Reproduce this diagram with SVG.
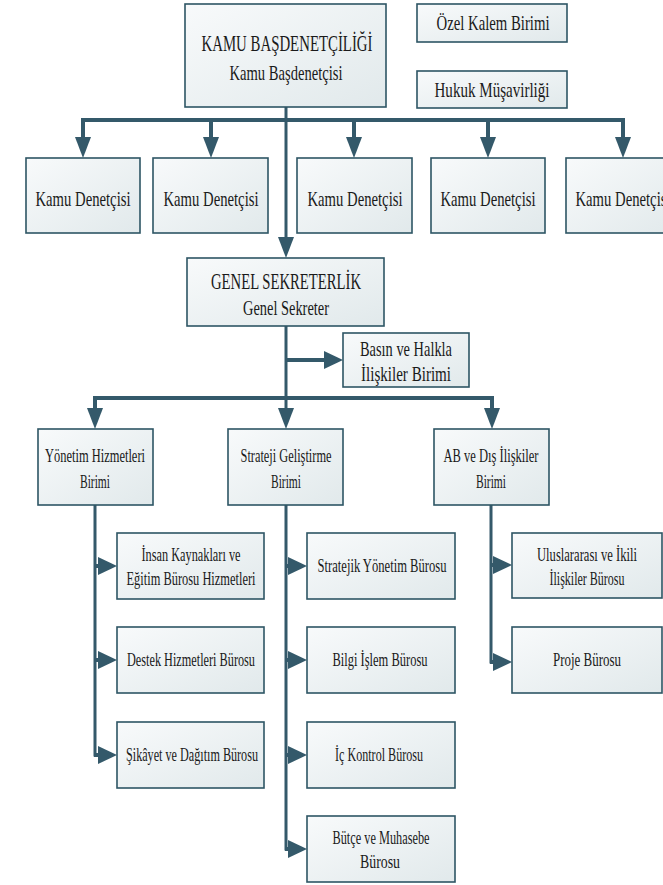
<svg xmlns="http://www.w3.org/2000/svg" width="663" height="885" viewBox="0 0 663 885" font-family="Liberation Serif, serif">
<defs>
<linearGradient id="g" x1="0" y1="0" x2="1" y2="1">
<stop offset="0" stop-color="#f8fafb"/>
<stop offset="1" stop-color="#e1e9eb"/>
</linearGradient>
<path id="hd" d="M-8,-21 L8,-21 L0,0 z" fill="#34596a"/>
<path id="hr" d="M-19,-9 L-19,9 L0,0 z" fill="#34596a"/>
<style>
.box{fill:url(#g);stroke:#2d5564;stroke-width:1.6}
.t{font-family:"Liberation Serif",serif;fill:#1a1a1a;text-anchor:middle}
.l{font-size:23px}
.m{font-size:21px}
.s{font-size:18.5px}
.c{fill:none;stroke:#34596a;stroke-linejoin:miter}
.b{stroke-width:4}
.v{stroke-width:3}
.a{stroke-width:4}
</style>
</defs>
<rect width="663" height="885" fill="#ffffff"/>
<g id="connectors">
<path class="c v" d="M286,107 V240"/>
<path class="c b" d="M83,122 V120 H623 V122"/>
<path class="c a" d="M83,120 V140 M211,120 V140 M354,120 V140 M488,120 V140 M623,120 V140"/>
<path class="c v" d="M286,326 V412"/>
<path class="c a" d="M286,360 H326"/>
<path class="c b" d="M95,400 V398 H492 V400"/>
<path class="c a" d="M95,398 V412 M492,398 V412"/>
<path class="c v" d="M95,505 V755 H100"/>
<path class="c a" d="M95,566 H100 M95,660 H100 M94,755 H100"/>
<path class="c v" d="M286,505 V849 H290"/>
<path class="c a" d="M286,566 H290 M286,660 H290 M286,755 H290 M285,849 H290"/>
<path class="c v" d="M491,505 V662 H496"/>
<path class="c a" d="M491,565 H495 M490,662 H495"/>
<use href="#hd" x="286" y="258"/>
<use href="#hd" x="83" y="158"/>
<use href="#hd" x="211" y="158"/>
<use href="#hd" x="354" y="158"/>
<use href="#hd" x="488" y="158"/>
<use href="#hd" x="623" y="158"/>
<use href="#hr" x="343" y="360"/>
<use href="#hd" x="95" y="429"/>
<use href="#hd" x="286" y="429"/>
<use href="#hd" x="492" y="429"/>
<use href="#hr" x="117" y="566"/>
<use href="#hr" x="117" y="660"/>
<use href="#hr" x="117" y="755"/>
<use href="#hr" x="307" y="566"/>
<use href="#hr" x="307" y="660"/>
<use href="#hr" x="307" y="755"/>
<use href="#hr" x="307" y="849"/>
<use href="#hr" x="512" y="565"/>
<use href="#hr" x="512" y="662"/>
</g>
<g id="kamu-basdenetcilik">
<rect class="box" x="185" y="4" width="201" height="103"/>
<text class="t l" x="287" y="51" textLength="171" lengthAdjust="spacingAndGlyphs">KAMU BAŞDENETÇİLİĞİ</text>
<text class="t m" x="286" y="80" textLength="113" lengthAdjust="spacingAndGlyphs">Kamu Başdenetçisi</text>
</g>
<g id="ozel-kalem">
<rect class="box" x="417" y="4" width="150" height="38"/>
<text class="t m" x="493" y="30" textLength="113" lengthAdjust="spacingAndGlyphs">Özel Kalem Birimi</text>
</g>
<g id="hukuk">
<rect class="box" x="417" y="71" width="150" height="37"/>
<text class="t m" x="492" y="97" textLength="115" lengthAdjust="spacingAndGlyphs">Hukuk Müşavirliği</text>
</g>
<g id="kamu-denetcisi-1">
<rect class="box" x="26" y="158" width="114" height="75"/>
<text class="t m" x="83" y="206" textLength="95" lengthAdjust="spacingAndGlyphs">Kamu Denetçisi</text>
</g>
<g id="kamu-denetcisi-2">
<rect class="box" x="153" y="158" width="115" height="75"/>
<text class="t m" x="211" y="206" textLength="95" lengthAdjust="spacingAndGlyphs">Kamu Denetçisi</text>
</g>
<g id="kamu-denetcisi-3">
<rect class="box" x="297" y="158" width="115" height="75"/>
<text class="t m" x="355" y="206" textLength="95" lengthAdjust="spacingAndGlyphs">Kamu Denetçisi</text>
</g>
<g id="kamu-denetcisi-4">
<rect class="box" x="431" y="158" width="114" height="75"/>
<text class="t m" x="488" y="206" textLength="95" lengthAdjust="spacingAndGlyphs">Kamu Denetçisi</text>
</g>
<g id="kamu-denetcisi-5">
<rect class="box" x="566" y="158" width="115" height="75"/>
<text class="t m" x="623" y="206" textLength="95" lengthAdjust="spacingAndGlyphs">Kamu Denetçisi</text>
</g>
<g id="genel-sekreterlik">
<rect class="box" x="187" y="258" width="197" height="68"/>
<text class="t l" x="286" y="289" textLength="150" lengthAdjust="spacingAndGlyphs">GENEL SEKRETERLİK</text>
<text class="t m" x="286" y="315" textLength="86" lengthAdjust="spacingAndGlyphs">Genel Sekreter</text>
</g>
<g id="basin">
<rect class="box" x="343" y="333" width="126" height="54"/>
<text class="t m" x="406" y="356" textLength="92" lengthAdjust="spacingAndGlyphs">Basın ve Halkla</text>
<text class="t m" x="406" y="381" textLength="90" lengthAdjust="spacingAndGlyphs">İlişkiler Birimi</text>
</g>
<g id="yonetim-hizmetleri">
<rect class="box" x="38" y="429" width="115" height="76"/>
<text class="t s" x="95" y="462" textLength="100" lengthAdjust="spacingAndGlyphs">Yönetim Hizmetleri</text>
<text class="t s" x="95" y="488" textLength="30" lengthAdjust="spacingAndGlyphs">Birimi</text>
</g>
<g id="strateji-gelistirme">
<rect class="box" x="228" y="429" width="115" height="76"/>
<text class="t s" x="286" y="462" textLength="91" lengthAdjust="spacingAndGlyphs">Strateji Geliştirme</text>
<text class="t s" x="286" y="488" textLength="30" lengthAdjust="spacingAndGlyphs">Birimi</text>
</g>
<g id="ab-dis-iliskiler">
<rect class="box" x="434" y="429" width="115" height="76"/>
<text class="t s" x="491" y="462" textLength="95" lengthAdjust="spacingAndGlyphs">AB ve Dış İlişkiler</text>
<text class="t s" x="491" y="488" textLength="30" lengthAdjust="spacingAndGlyphs">Birimi</text>
</g>
<g id="insan-kaynaklari">
<rect class="box" x="117" y="533" width="147" height="66"/>
<text class="t s" x="191" y="561" textLength="99" lengthAdjust="spacingAndGlyphs">İnsan Kaynakları ve</text>
<text class="t s" x="191" y="585" textLength="129" lengthAdjust="spacingAndGlyphs">Eğitim Bürosu Hizmetleri</text>
</g>
<g id="destek-hizmetleri">
<rect class="box" x="117" y="627" width="147" height="66"/>
<text class="t s" x="191" y="666" textLength="128" lengthAdjust="spacingAndGlyphs">Destek Hizmetleri Bürosu</text>
</g>
<g id="sikayet-dagitim">
<rect class="box" x="117" y="722" width="147" height="66"/>
<text class="t s" x="192" y="761" textLength="132" lengthAdjust="spacingAndGlyphs">Şikâyet ve Dağıtım Bürosu</text>
</g>
<g id="stratejik-yonetim">
<rect class="box" x="307" y="533" width="148" height="66"/>
<text class="t s" x="382" y="572" textLength="129" lengthAdjust="spacingAndGlyphs">Stratejik Yönetim Bürosu</text>
</g>
<g id="bilgi-islem">
<rect class="box" x="307" y="627" width="148" height="66"/>
<text class="t s" x="380" y="666" textLength="95" lengthAdjust="spacingAndGlyphs">Bilgi İşlem Bürosu</text>
</g>
<g id="ic-kontrol">
<rect class="box" x="307" y="722" width="148" height="66"/>
<text class="t s" x="379" y="761" textLength="88" lengthAdjust="spacingAndGlyphs">İç Kontrol Bürosu</text>
</g>
<g id="butce-muhasebe">
<rect class="box" x="307" y="816" width="148" height="66"/>
<text class="t s" x="381" y="844" textLength="97" lengthAdjust="spacingAndGlyphs">Bütçe ve Muhasebe</text>
<text class="t s" x="380" y="868" textLength="40" lengthAdjust="spacingAndGlyphs">Bürosu</text>
</g>
<g id="uluslararasi">
<rect class="box" x="512" y="533" width="150" height="65"/>
<text class="t s" x="587" y="561" textLength="100" lengthAdjust="spacingAndGlyphs">Uluslararası ve İkili</text>
<text class="t s" x="587" y="585" textLength="75" lengthAdjust="spacingAndGlyphs">İlişkiler Bürosu</text>
</g>
<g id="proje">
<rect class="box" x="512" y="627" width="150" height="66"/>
<text class="t s" x="587" y="666" textLength="68" lengthAdjust="spacingAndGlyphs">Proje Bürosu</text>
</g>
</svg>
